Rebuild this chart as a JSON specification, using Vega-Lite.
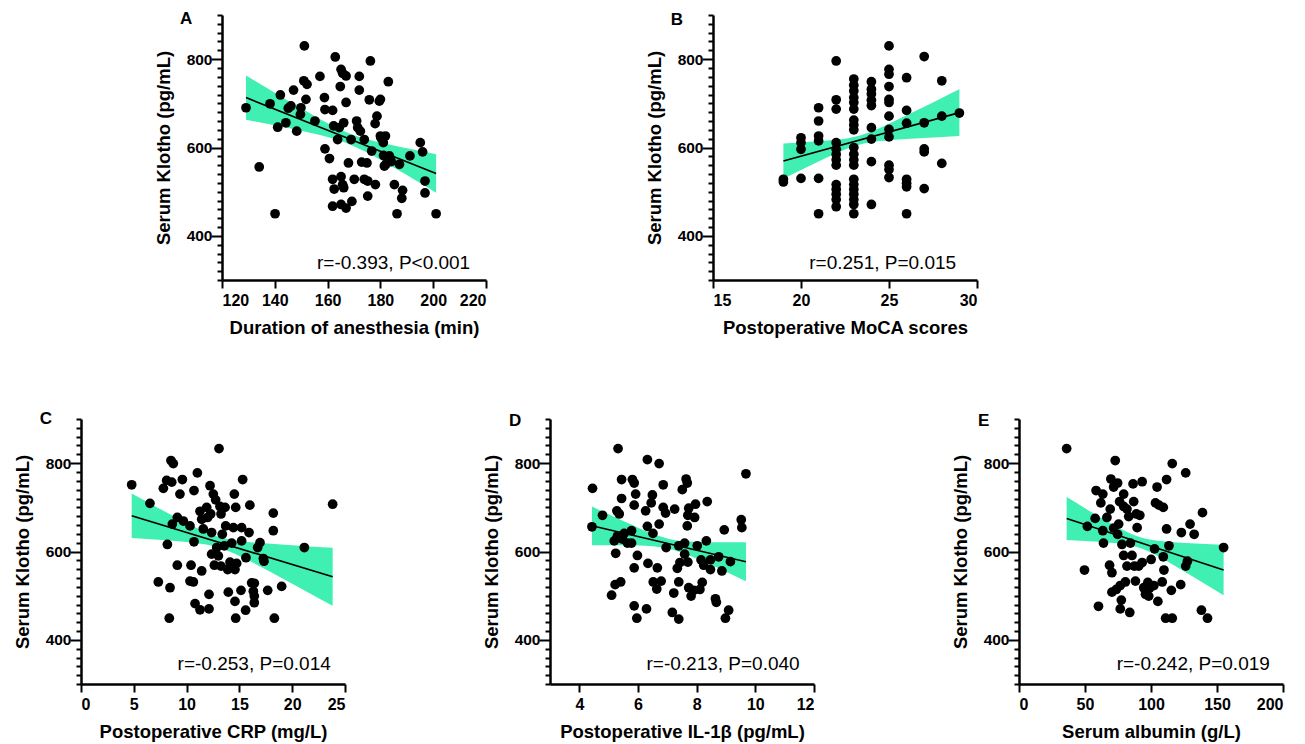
{
  "$schema": "https://vega.github.io/schema/vega-lite/v6.json",
  "padding": {"left": 12, "top": 7, "right": 5, "bottom": 2},
  "autosize": {"type": "pad"},
  "background": "white",
  "datasets": {
    "A": [
      {"x":129.1,"y":690},{"x":138.2,"y":699},{"x":134.1,"y":556},{"x":140.1,"y":450},{"x":142.1,"y":719},{"x":141.1,"y":646},{"x":144.2,"y":656},{"x":147.1,"y":730},{"x":145.1,"y":689},{"x":146.1,"y":694},
      {"x":148.3,"y":637},{"x":149.9,"y":690},{"x":149.7,"y":675},{"x":151.2,"y":830},{"x":151,"y":751},{"x":152.2,"y":743},{"x":151.8,"y":709},{"x":155.2,"y":660},{"x":157.1,"y":761},{"x":158.8,"y":713},
      {"x":159,"y":686},{"x":161.9,"y":684},{"x":159,"y":597},{"x":160.7,"y":575},{"x":161.9,"y":528},{"x":162.5,"y":506},{"x":161.9,"y":467},{"x":162.9,"y":805},{"x":162.3,"y":649},{"x":163.8,"y":618},
      {"x":164.4,"y":645},{"x":165.1,"y":777},{"x":165.7,"y":768},{"x":167,"y":762},{"x":164.8,"y":738},{"x":167,"y":702},{"x":166.1,"y":656},{"x":165.1,"y":534},{"x":165.7,"y":516},{"x":166.1,"y":509},
      {"x":165.1,"y":471},{"x":167,"y":463},{"x":167.9,"y":565},{"x":168.9,"y":618},{"x":169.2,"y":478},{"x":170.1,"y":528},{"x":172,"y":761},{"x":172,"y":730},{"x":171,"y":660},{"x":171.4,"y":645},
      {"x":172.4,"y":637},{"x":173.9,"y":618},{"x":172.9,"y":567},{"x":174.9,"y":565},{"x":173.9,"y":528},{"x":175.2,"y":524},{"x":175.2,"y":490},{"x":176.2,"y":796},{"x":175.8,"y":708},{"x":176.7,"y":592},
      {"x":178.1,"y":516},{"x":178,"y":654},{"x":178.7,"y":671},{"x":179.6,"y":705},{"x":180,"y":709},{"x":180,"y":626},{"x":181.1,"y":611},{"x":180.2,"y":622},{"x":181.9,"y":626},{"x":181.2,"y":582},
      {"x":182.1,"y":562},{"x":183.4,"y":581},{"x":183,"y":749},{"x":183.8,"y":573},{"x":185.3,"y":516},{"x":186.3,"y":450},{"x":187.2,"y":562},{"x":188.4,"y":503},{"x":188.1,"y":485},{"x":191.2,"y":581},
      {"x":195.1,"y":611},{"x":196,"y":590},{"x":196.9,"y":524},{"x":196.9,"y":497},{"x":201.1,"y":450},{"x":184.1,"y":568},{"x":181.5,"y":558}
    ],
    "Aband": [
      {"x":129.1,"y":663,"y2":763},{"x":140,"y":650.1,"y2":723.9},{"x":145,"y":644.1,"y2":706.1},{"x":150,"y":637.8,"y2":688.6},{"x":155,"y":631.1,"y2":671.3},{"x":160,"y":623.8,"y2":654.8},
      {"x":167.8,"y":608.7,"y2":632.7},{"x":175,"y":588.5,"y2":618.5},{"x":180,"y":572.1,"y2":611.1},{"x":185,"y":555,"y2":604.4},{"x":190,"y":537.5,"y2":598.1},{"x":195,"y":519.6,"y2":592},{"x":201.1,"y":497.8,"y2":584.8}
    ],
    "Aline": [{"x":129.1,"y":713},{"x":201.1,"y":541.3}],
    "B": [
      {"x":19,"y":528},{"x":19,"y":522},
      {"x":20,"y":622},{"x":20,"y":611},{"x":20,"y":596},{"x":20,"y":530},
      {"x":21,"y":690},{"x":21,"y":660},{"x":21,"y":626},{"x":21,"y":615},{"x":21,"y":530},{"x":21,"y":450},
      {"x":22,"y":796},{"x":22,"y":708},{"x":22,"y":687},{"x":22,"y":611},{"x":22,"y":596},{"x":22,"y":584},{"x":22,"y":572},{"x":22,"y":560},{"x":22,"y":516},{"x":22,"y":505},{"x":22,"y":494},{"x":22,"y":482},{"x":22,"y":466},
      {"x":23,"y":755},{"x":23,"y":741},{"x":23,"y":728},{"x":23,"y":713},{"x":23,"y":702},{"x":23,"y":687},{"x":23,"y":662},{"x":23,"y":651},{"x":23,"y":640},{"x":23,"y":600},{"x":23,"y":585},{"x":23,"y":572},{"x":23,"y":560},{"x":23,"y":528},{"x":23,"y":516},{"x":23,"y":505},{"x":23,"y":494},{"x":23,"y":482},{"x":23,"y":471},{"x":23,"y":450},
      {"x":24,"y":749},{"x":24,"y":732},{"x":24,"y":721},{"x":24,"y":707},{"x":24,"y":695},{"x":24,"y":645},{"x":24,"y":619},{"x":24,"y":568},{"x":24,"y":471},
      {"x":25,"y":830},{"x":25,"y":777},{"x":25,"y":766},{"x":25,"y":738},{"x":25,"y":709},{"x":25,"y":702},{"x":25,"y":671},{"x":25,"y":641},{"x":25,"y":624},{"x":25,"y":560},{"x":25,"y":550},{"x":25,"y":532},
      {"x":26,"y":758},{"x":26,"y":684},{"x":26,"y":655},{"x":26,"y":528},{"x":26,"y":519},{"x":26,"y":511},{"x":26,"y":450},
      {"x":27,"y":806},{"x":27,"y":656},{"x":27,"y":597},{"x":27,"y":590},{"x":27,"y":507},
      {"x":28,"y":751},{"x":28,"y":671},{"x":28,"y":564},
      {"x":29,"y":678}
    ],
    "Bband": [
      {"x":19,"y":529.5,"y2":609.1},{"x":20,"y":549.2,"y2":611.4},{"x":21,"y":568.5,"y2":613.9},{"x":22,"y":587.1,"y2":617.3},{"x":22.6,"y":597.2,"y2":620.4},{"x":23.25,"y":605.9,"y2":625.9},
      {"x":23.9,"y":611.5,"y2":634.7},{"x":25,"y":616.4,"y2":653.8},{"x":26,"y":619.2,"y2":672.8},{"x":27,"y":621.6,"y2":692.4},{"x":28,"y":623.8,"y2":712.2},{"x":29,"y":626,"y2":732}
    ],
    "Bline": [{"x":19,"y":569.3},{"x":29,"y":679}],
    "C": [
      {"x":4.8,"y":751},{"x":6.53,"y":709},{"x":7.32,"y":531},{"x":7.8,"y":743},{"x":8.11,"y":761},{"x":8.18,"y":616},{"x":8.43,"y":518},{"x":8.36,"y":449},{"x":8.52,"y":806},{"x":8.74,"y":799},
      {"x":8.59,"y":757},{"x":8.65,"y":662},{"x":9.12,"y":677},{"x":9.12,"y":569},{"x":9.37,"y":730},{"x":9.6,"y":763},{"x":9.69,"y":669},{"x":10.32,"y":658},{"x":10.42,"y":569},{"x":10.32,"y":533},
      {"x":10.64,"y":531},{"x":10.7,"y":622},{"x":10.7,"y":738},{"x":10.8,"y":482},{"x":11.02,"y":778},{"x":11.27,"y":468},{"x":11.43,"y":556},{"x":11.27,"y":691},{"x":11.43,"y":673},{"x":11.58,"y":651},
      {"x":11.9,"y":700},{"x":11.99,"y":677},{"x":12.12,"y":503},{"x":12.12,"y":470},{"x":12.22,"y":749},{"x":12.28,"y":685},{"x":12.37,"y":594},{"x":12.37,"y":643},{"x":12.53,"y":730},{"x":12.63,"y":569},
      {"x":12.75,"y":717},{"x":12.85,"y":609},{"x":13.01,"y":590},{"x":13.07,"y":833},{"x":13.16,"y":702},{"x":13.26,"y":685},{"x":13.26,"y":567},{"x":13.38,"y":639},{"x":13.57,"y":613},{"x":13.64,"y":700},
      {"x":13.7,"y":658},{"x":13.89,"y":559},{"x":13.95,"y":508},{"x":14.11,"y":576},{"x":14.27,"y":619},{"x":14.43,"y":654},{"x":14.52,"y":730},{"x":14.58,"y":559},{"x":14.58,"y":487},{"x":14.65,"y":700},
      {"x":14.65,"y":449},{"x":14.74,"y":573},{"x":15.15,"y":512},{"x":15.31,"y":763},{"x":15.21,"y":654},{"x":15.21,"y":624},{"x":15.59,"y":467},{"x":15.62,"y":586},{"x":15.91,"y":643},{"x":15.99,"y":705},
      {"x":16.16,"y":529},{"x":16.41,"y":528},{"x":16.32,"y":510},{"x":16.41,"y":499},{"x":16.41,"y":484},{"x":16.73,"y":609},{"x":16.95,"y":620},{"x":17.27,"y":584},{"x":17.33,"y":578},{"x":17.68,"y":512},
      {"x":18.21,"y":687},{"x":18.21,"y":647},{"x":18.31,"y":449},{"x":19,"y":521},{"x":21.15,"y":609},{"x":23.83,"y":707}
    ],
    "Cband": [
      {"x":4.8,"y":630.4,"y2":731.2},{"x":7,"y":627,"y2":702.6},{"x":9,"y":623.6,"y2":677},{"x":11,"y":618.9,"y2":652.7},{"x":12,"y":615.2,"y2":642},{"x":13,"y":609.3,"y2":633.3},
      {"x":14,"y":600.7,"y2":627.5},{"x":15,"y":589.9,"y2":623.7},{"x":17,"y":565.6,"y2":619},{"x":19,"y":540,"y2":615.6},{"x":21,"y":514,"y2":612.4},{"x":23.83,"y":477,"y2":608.4}
    ],
    "Cline": [{"x":4.8,"y":680.8},{"x":23.83,"y":542.7}],
    "D": [
      {"x":4.45,"y":743},{"x":4.43,"y":656},{"x":4.79,"y":682},{"x":5.1,"y":501},{"x":5.22,"y":525},{"x":5.24,"y":596},{"x":5.28,"y":692},{"x":5.32,"y":833},{"x":5.36,"y":685},{"x":5.44,"y":763},
      {"x":5.44,"y":720},{"x":5.41,"y":531},{"x":5.19,"y":624},{"x":5.3,"y":635},{"x":5.47,"y":628},{"x":5.53,"y":641},{"x":5.64,"y":619},{"x":5.78,"y":619},{"x":5.78,"y":647},{"x":5.81,"y":763},
      {"x":5.87,"y":755},{"x":5.87,"y":705},{"x":5.92,"y":730},{"x":5.87,"y":563},{"x":5.87,"y":477},{"x":5.96,"y":449},{"x":5.98,"y":591},{"x":6.29,"y":470},{"x":6.34,"y":573},{"x":6.26,"y":692},
      {"x":6.32,"y":657},{"x":6.32,"y":808},{"x":6.45,"y":710},{"x":6.49,"y":728},{"x":6.51,"y":641},{"x":6.52,"y":531},{"x":6.66,"y":563},{"x":6.64,"y":515},{"x":6.72,"y":799},{"x":6.72,"y":662},
      {"x":6.79,"y":533},{"x":6.86,"y":751},{"x":6.86,"y":700},{"x":6.94,"y":687},{"x":6.96,"y":609},{"x":7.22,"y":506},{"x":7.25,"y":696},{"x":7.17,"y":462},{"x":7.34,"y":562},{"x":7.39,"y":531},
      {"x":7.39,"y":447},{"x":7.43,"y":575},{"x":7.39,"y":613},{"x":7.51,"y":740},{"x":7.64,"y":764},{"x":7.68,"y":755},{"x":7.59,"y":619},{"x":7.59,"y":594},{"x":7.7,"y":576},{"x":7.68,"y":658},
      {"x":7.73,"y":698},{"x":7.7,"y":682},{"x":7.73,"y":518},{"x":7.81,"y":499},{"x":7.9,"y":512},{"x":7.93,"y":677},{"x":7.96,"y":707},{"x":8.02,"y":613},{"x":8.11,"y":514},{"x":8.15,"y":581},
      {"x":8.19,"y":530},{"x":8.24,"y":569},{"x":8.33,"y":624},{"x":8.36,"y":713},{"x":8.47,"y":559},{"x":8.47,"y":581},{"x":8.64,"y":493},{"x":8.67,"y":485},{"x":8.75,"y":588},{"x":8.86,"y":556},
      {"x":8.94,"y":649},{"x":8.98,"y":449},{"x":9.09,"y":467},{"x":9.15,"y":577},{"x":9.52,"y":672},{"x":9.54,"y":654},{"x":9.68,"y":776}
    ],
    "Dband": [
      {"x":4.43,"y":614.4,"y2":701.8},{"x":5,"y":614.4,"y2":684.2},{"x":5.5,"y":614.2,"y2":668.8},{"x":6,"y":613.6,"y2":654},{"x":6.5,"y":612,"y2":640.2},{"x":7.05,"y":606.5,"y2":628.5},
      {"x":7.5,"y":597.4,"y2":623.8},{"x":8,"y":583.9,"y2":621.7},{"x":8.5,"y":569.2,"y2":621},{"x":9,"y":553.9,"y2":620.7},{"x":9.68,"y":532.9,"y2":620.7}
    ],
    "Dline": [{"x":4.43,"y":658.1},{"x":9.68,"y":576.8}],
    "E": [
      {"x":36.1,"y":833},{"x":49.6,"y":558},{"x":51.8,"y":657},{"x":57.7,"y":675},{"x":58.4,"y":738},{"x":60.2,"y":476},{"x":62,"y":710},{"x":63.5,"y":730},{"x":64,"y":619},{"x":63.5,"y":647},
      {"x":66.6,"y":677},{"x":68.6,"y":569},{"x":69.6,"y":764},{"x":69.1,"y":696},{"x":70.4,"y":552},{"x":70.4,"y":508},{"x":71.7,"y":653},{"x":71.7,"y":746},{"x":72.9,"y":806},{"x":73.7,"y":514},
      {"x":74.7,"y":755},{"x":74.7,"y":639},{"x":75.5,"y":662},{"x":76.2,"y":713},{"x":76.7,"y":523},{"x":76.7,"y":470},{"x":77.5,"y":490},{"x":78,"y":616},{"x":79.3,"y":730},{"x":79.3,"y":702},
      {"x":79.3,"y":591},{"x":80.6,"y":531},{"x":81.8,"y":696},{"x":81.8,"y":567},{"x":83.1,"y":679},{"x":83.9,"y":462},{"x":84.4,"y":619},{"x":85.6,"y":591},{"x":86.4,"y":753},{"x":86.9,"y":713},
      {"x":87.4,"y":567},{"x":88.2,"y":533},{"x":89.5,"y":654},{"x":88.9,"y":685},{"x":90.7,"y":567},{"x":91.5,"y":682},{"x":93.3,"y":758},{"x":93.3,"y":575},{"x":94.5,"y":518},{"x":95.8,"y":503},
      {"x":96.6,"y":510},{"x":98.3,"y":499},{"x":97.6,"y":530},{"x":99.1,"y":518},{"x":100.1,"y":582},{"x":102.2,"y":523},{"x":102.7,"y":606},{"x":103.4,"y":710},{"x":104.6,"y":746},{"x":105.2,"y":487},
      {"x":106,"y":705},{"x":109.3,"y":700},{"x":108.5,"y":531},{"x":109.3,"y":588},{"x":109.8,"y":558},{"x":111.1,"y":449},{"x":111.8,"y":651},{"x":111.8,"y":763},{"x":113.6,"y":613},{"x":116.1,"y":799},
      {"x":115.4,"y":512},{"x":116.1,"y":449},{"x":122.5,"y":525},{"x":123,"y":643},{"x":126.3,"y":778},{"x":126.3,"y":567},{"x":127.6,"y":578},{"x":129.6,"y":662},{"x":132.7,"y":639},{"x":139,"y":688},
      {"x":138.2,"y":467},{"x":142.8,"y":449},{"x":155,"y":609}
    ],
    "Eband": [
      {"x":36.1,"y":626.2,"y2":723.4},{"x":50,"y":624,"y2":698.2},{"x":65,"y":621.2,"y2":671.6},{"x":80,"y":616.5,"y2":646.7},{"x":90.6,"y":609.2,"y2":633.2},
      {"x":100,"y":597.5,"y2":626.5},{"x":115,"y":572.9,"y2":621.5},{"x":130,"y":546.4,"y2":618.6},{"x":145,"y":519.2,"y2":616.2},{"x":155,"y":501,"y2":614.8}
    ],
    "Eline": [{"x":36.1,"y":674.8},{"x":155,"y":557.9}]
  },
  "vconcat": [
    {
      "spacing": 0,
      "hconcat": [
        {"data": {"values": [{}]}, "mark": {"type": "rect", "opacity": 0}, "encoding": {}, "width": 72, "height": 265},
        {
          "spacing": 227,
          "bounds": "flush",
          "hconcat": [
            {
              "width": 264, "height": 265,
              "encoding": {
                "x": {"field": "x", "type": "quantitative", "scale": {"domain": [120, 220], "nice": false, "zero": false}, "axis": {"title": "Duration of anesthesia (min)", "values": [120, 140, 160, 180, 200, 220]}},
                "y": {"field": "y", "type": "quantitative", "scale": {"domain": [300, 900], "nice": false, "zero": false},
                  "axis": {"title": "Serum Klotho (pg/mL)", "values": [300,320,340,360,380,400,420,440,460,480,500,520,540,560,580,600,620,640,660,680,700,720,740,760,780,800,820,840,860,880,900], "labelExpr": "datum.value % 200 === 0 ? datum.label : ''", "tickSize": {"condition": {"test": "datum.value % 200 === 0", "value": 11}, "value": 5}}}
              },
              "layer": [
                {"data": {"name": "Aband"}, "mark": {"type": "area", "color": "#40EFB2", "opacity": 1, "interpolate": "monotone"}, "encoding": {"y2": {"field": "y2"}}},
                {"data": {"name": "Aline"}, "mark": {"type": "line", "color": "black", "strokeWidth": 1.6}, "encoding": {}},
                {"data": {"name": "A"}, "mark": {"type": "circle", "size": 95, "color": "black", "opacity": 1}, "encoding": {}},
                {"data": {"values": [{"x": 185, "y": 325, "t": "r=-0.393, P<0.001"}]}, "mark": {"type": "text", "fontSize": 19, "font": "Liberation Sans", "align": "center", "baseline": "alphabetic", "color": "black"}, "encoding": {"text": {"field": "t"}}},
                {"data": {"values": [{"x": 104.1, "y": 879.6, "t": "A"}]}, "mark": {"type": "text", "fontSize": 17, "fontWeight": "bold", "font": "Liberation Sans", "align": "left", "baseline": "alphabetic", "color": "black"}, "encoding": {"text": {"field": "t"}}}
              ]
            },
            {
              "width": 264, "height": 265,
              "encoding": {
                "x": {"field": "x", "type": "quantitative", "scale": {"domain": [15, 30], "nice": false, "zero": false}, "axis": {"title": "Postoperative MoCA scores", "values": [15, 20, 25, 30]}},
                "y": {"field": "y", "type": "quantitative", "scale": {"domain": [300, 900], "nice": false, "zero": false},
                  "axis": {"title": "Serum Klotho (pg/mL)", "values": [300,320,340,360,380,400,420,440,460,480,500,520,540,560,580,600,620,640,660,680,700,720,740,760,780,800,820,840,860,880,900], "labelExpr": "datum.value % 200 === 0 ? datum.label : ''", "tickSize": {"condition": {"test": "datum.value % 200 === 0", "value": 11}, "value": 5}}}
              },
              "layer": [
                {"data": {"name": "Bband"}, "mark": {"type": "area", "color": "#40EFB2", "opacity": 1, "interpolate": "monotone"}, "encoding": {"y2": {"field": "y2"}}},
                {"data": {"name": "Bline"}, "mark": {"type": "line", "color": "black", "strokeWidth": 1.6}, "encoding": {}},
                {"data": {"name": "B"}, "mark": {"type": "circle", "size": 95, "color": "black", "opacity": 1}, "encoding": {}},
                {"data": {"values": [{"x": 24.64, "y": 325, "t": "r=0.251, P=0.015"}]}, "mark": {"type": "text", "fontSize": 19, "font": "Liberation Sans", "align": "center", "baseline": "alphabetic", "color": "black"}, "encoding": {"text": {"field": "t"}}},
                {"data": {"values": [{"x": 12.6, "y": 877.5, "t": "B"}]}, "mark": {"type": "text", "fontSize": 17, "fontWeight": "bold", "font": "Liberation Sans", "align": "left", "baseline": "alphabetic", "color": "black"}, "encoding": {"text": {"field": "t"}}}
              ]
            }
          ]
        }
      ]
    },
    {
      "spacing": 205,
      "bounds": "flush",
      "hconcat": [
        {
          "width": 264, "height": 265,
          "encoding": {
            "x": {"field": "x", "type": "quantitative", "scale": {"domain": [0, 25], "nice": false, "zero": false}, "axis": {"title": "Postoperative CRP (mg/L)", "values": [0, 5, 10, 15, 20, 25]}},
            "y": {"field": "y", "type": "quantitative", "scale": {"domain": [300, 900], "nice": false, "zero": false},
              "axis": {"title": "Serum Klotho (pg/mL)", "values": [300,320,340,360,380,400,420,440,460,480,500,520,540,560,580,600,620,640,660,680,700,720,740,760,780,800,820,840,860,880,900], "labelExpr": "datum.value % 200 === 0 ? datum.label : ''", "tickSize": {"condition": {"test": "datum.value % 200 === 0", "value": 11}, "value": 5}}}
          },
          "layer": [
            {"data": {"name": "Cband"}, "mark": {"type": "area", "color": "#40EFB2", "opacity": 1, "interpolate": "monotone"}, "encoding": {"y2": {"field": "y2"}}},
            {"data": {"name": "Cline"}, "mark": {"type": "line", "color": "black", "strokeWidth": 1.6}, "encoding": {}},
            {"data": {"name": "C"}, "mark": {"type": "circle", "size": 95, "color": "black", "opacity": 1}, "encoding": {}},
            {"data": {"values": [{"x": 16.4, "y": 332, "t": "r=-0.253, P=0.014"}]}, "mark": {"type": "text", "fontSize": 19, "font": "Liberation Sans", "align": "center", "baseline": "alphabetic", "color": "black"}, "encoding": {"text": {"field": "t"}}},
            {"data": {"values": [{"x": -3.9, "y": 888, "t": "C"}]}, "mark": {"type": "text", "fontSize": 17, "fontWeight": "bold", "font": "Liberation Sans", "align": "left", "baseline": "alphabetic", "color": "black"}, "encoding": {"text": {"field": "t"}}}
          ]
        },
        {
          "width": 264, "height": 265,
          "encoding": {
            "x": {"field": "x", "type": "quantitative", "scale": {"domain": [3, 12], "nice": false, "zero": false}, "axis": {"title": "Postoperative IL-1β (pg/mL)", "values": [4, 6, 8, 10, 12]}},
            "y": {"field": "y", "type": "quantitative", "scale": {"domain": [300, 900], "nice": false, "zero": false},
              "axis": {"title": "Serum Klotho (pg/mL)", "values": [300,320,340,360,380,400,420,440,460,480,500,520,540,560,580,600,620,640,660,680,700,720,740,760,780,800,820,840,860,880,900], "labelExpr": "datum.value % 200 === 0 ? datum.label : ''", "tickSize": {"condition": {"test": "datum.value % 200 === 0", "value": 11}, "value": 5}}}
          },
          "layer": [
            {"data": {"name": "Dband"}, "mark": {"type": "area", "color": "#40EFB2", "opacity": 1, "interpolate": "monotone"}, "encoding": {"y2": {"field": "y2"}}},
            {"data": {"name": "Dline"}, "mark": {"type": "line", "color": "black", "strokeWidth": 1.6}, "encoding": {}},
            {"data": {"name": "D"}, "mark": {"type": "circle", "size": 95, "color": "black", "opacity": 1}, "encoding": {}},
            {"data": {"values": [{"x": 8.9, "y": 332, "t": "r=-0.213, P=0.040"}]}, "mark": {"type": "text", "fontSize": 19, "font": "Liberation Sans", "align": "center", "baseline": "alphabetic", "color": "black"}, "encoding": {"text": {"field": "t"}}},
            {"data": {"values": [{"x": 1.6, "y": 884, "t": "D"}]}, "mark": {"type": "text", "fontSize": 17, "fontWeight": "bold", "font": "Liberation Sans", "align": "left", "baseline": "alphabetic", "color": "black"}, "encoding": {"text": {"field": "t"}}}
          ]
        },
        {
          "width": 264, "height": 265,
          "encoding": {
            "x": {"field": "x", "type": "quantitative", "scale": {"domain": [0, 200], "nice": false, "zero": false}, "axis": {"title": "Serum albumin (g/L)", "values": [0, 50, 100, 150, 200]}},
            "y": {"field": "y", "type": "quantitative", "scale": {"domain": [300, 900], "nice": false, "zero": false},
              "axis": {"title": "Serum Klotho (pg/mL)", "values": [300,320,340,360,380,400,420,440,460,480,500,520,540,560,580,600,620,640,660,680,700,720,740,760,780,800,820,840,860,880,900], "labelExpr": "datum.value % 200 === 0 ? datum.label : ''", "tickSize": {"condition": {"test": "datum.value % 200 === 0", "value": 11}, "value": 5}}}
          },
          "layer": [
            {"data": {"name": "Eband"}, "mark": {"type": "area", "color": "#40EFB2", "opacity": 1, "interpolate": "monotone"}, "encoding": {"y2": {"field": "y2"}}},
            {"data": {"name": "Eline"}, "mark": {"type": "line", "color": "black", "strokeWidth": 1.6}, "encoding": {}},
            {"data": {"name": "E"}, "mark": {"type": "circle", "size": 95, "color": "black", "opacity": 1}, "encoding": {}},
            {"data": {"values": [{"x": 132, "y": 332, "t": "r=-0.242, P=0.019"}]}, "mark": {"type": "text", "fontSize": 19, "font": "Liberation Sans", "align": "center", "baseline": "alphabetic", "color": "black"}, "encoding": {"text": {"field": "t"}}},
            {"data": {"values": [{"x": -31, "y": 884, "t": "E"}]}, "mark": {"type": "text", "fontSize": 17, "fontWeight": "bold", "font": "Liberation Sans", "align": "left", "baseline": "alphabetic", "color": "black"}, "encoding": {"text": {"field": "t"}}}
          ]
        }
      ]
    }
  ],
  "spacing": 72,
  "config": {
    "view": {"stroke": "transparent"},
    "font": "Liberation Sans",
    "axis": {"grid": false, "domainColor": "black", "domainWidth": 2.5, "tickColor": "black", "tickWidth": 2, "labelColor": "black", "labelFont": "Liberation Sans", "labelFontWeight": "bold", "titleColor": "black", "titleFont": "Liberation Sans", "titleFontWeight": "bold", "titleFontSize": 18.5, "labelOverlap": false},
    "axisX": {"tickSize": 8, "labelFontSize": 16, "labelPadding": 4, "titlePadding": 10},
    "axisY": {"labelFontSize": 15.5, "labelPadding": -1, "titlePadding": 13}
  }
}
